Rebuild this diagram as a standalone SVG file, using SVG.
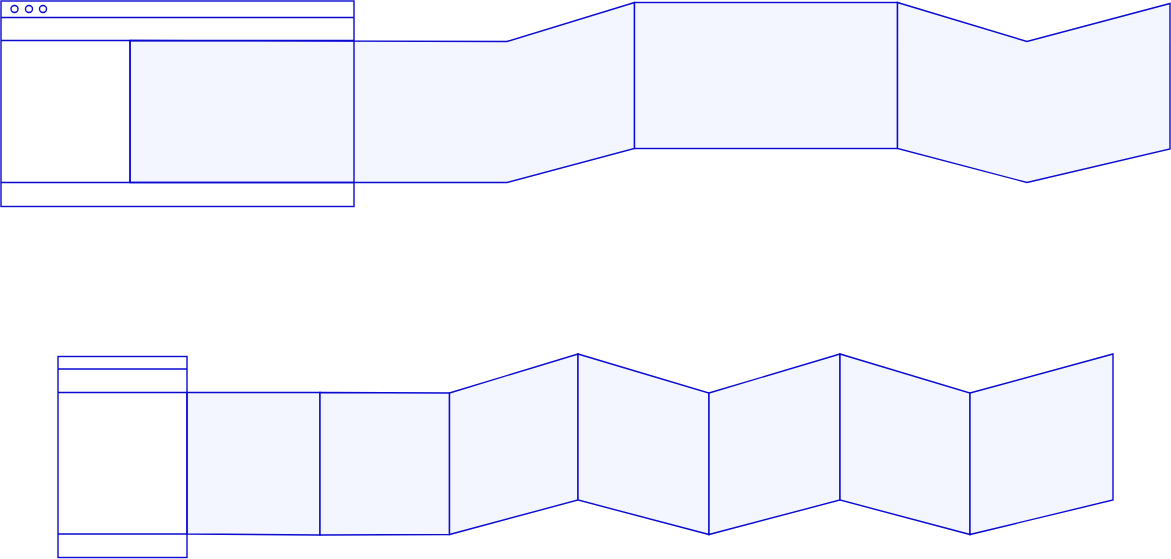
<svg xmlns="http://www.w3.org/2000/svg" width="1171" height="559" viewBox="0 0 1171 559">
<style>
.s{stroke:#0a0ad2;stroke-width:1.4;stroke-linejoin:miter}
.p{fill:#f3f6fe}
.w{fill:#ffffff}
.n{fill:none}
</style>
<rect width="1171" height="559" fill="#ffffff"/>
<g id="desktop-strip">
<polygon class="s p" points="130,40.5 507,41.5 634.5,2.5 634.5,148.5 507,182.5 130,182.5"/>
<rect class="s p" x="634.5" y="2.5" width="263" height="146"/>
<polygon class="s p" points="897.5,2.5 1027,41.5 1170,3.5 1170,149 1027,182.5 897.5,148.5"/>
</g>
<g id="browser">
<rect class="s n" x="1" y="1" width="353" height="205.5"/>
<line class="s" x1="1" y1="17.5" x2="354" y2="17.5"/>
<line class="s" x1="1" y1="40.5" x2="354" y2="40.5"/>
<line class="s" x1="1" y1="182.5" x2="354" y2="182.5"/>
<line class="s" x1="130" y1="40.5" x2="130" y2="182.5"/>
<circle class="s n" cx="14.5" cy="9" r="3.5"/>
<circle class="s n" cx="29" cy="9" r="3.5"/>
<circle class="s n" cx="43" cy="9" r="3.5"/>
</g>
<g id="mobile-strip">
<polygon class="s p" points="187,392.5 320,392.5 320,535 187,534"/>
<polygon class="s p" points="320,392.5 449.5,393 449.5,534.5 320,535"/>
<polygon class="s p" points="449.5,393 578,354 578,500 449.5,534.5"/>
<polygon class="s p" points="578,354 709,393 709,534.5 578,500"/>
<polygon class="s p" points="709,393 840,354 840,500 709,534.5"/>
<polygon class="s p" points="840,354 970,393 970,534.5 840,500"/>
<polygon class="s p" points="970,393 1113,354 1113,500 970,534.5"/>
</g>
<g id="phone">
<rect class="s n" x="58" y="356.5" width="129" height="201"/>
<line class="s" x1="58" y1="369" x2="187" y2="369"/>
<line class="s" x1="58" y1="392.5" x2="187" y2="392.5"/>
<line class="s" x1="58" y1="534" x2="187" y2="534"/>
</g>
</svg>
